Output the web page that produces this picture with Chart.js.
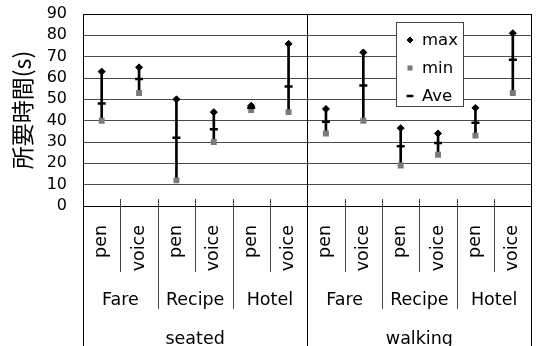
<!DOCTYPE html>
<html>
<head>
<meta charset="utf-8">
<script src="https://cdn.jsdelivr.net/npm/chart.js@4"></script>
<style>
  html, body { margin: 0; padding: 0; background: #fff; }
  #wrap { width: 538px; height: 346px; position: relative; }
</style>
</head>
<body>
<div id="wrap"><canvas id="timeChart"></canvas></div>
<script>
// --- data ---
const categories = ["pen", "voice", "pen", "voice", "pen", "voice", "pen", "voice", "pen", "voice", "pen", "voice"];
const tasks = ["Fare", "Recipe", "Hotel", "Fare", "Recipe", "Hotel"];
const postures = ["seated", "walking"];
const maxValues = [63, 65, 50, 44, 47, 76, 45.5, 72, 36.5, 34, 46, 81];
const minValues = [40, 53, 12, 30, 45, 44, 34, 40, 19, 24, 33, 53];
const aveValues = [48, 59.5, 32, 36, 46, 56, 39.5, 56.5, 28, 29.5, 39, 68.5];
const yTicks = [0, 10, 20, 30, 40, 50, 60, 70, 80, 90];

const LATIN = "'DejaVu Sans', sans-serif";

// separators + group labels + legend
const extras = {
  id: "extras",
  afterDraw(chart) {
    const ctx = chart.ctx;
    const area = chart.chartArea;
    const x = chart.scales.x;
    const H = chart.height;
    const edge = i => (x.getPixelForValue(i - 1) + x.getPixelForValue(i)) / 2;
    const step = x.getPixelForValue(1) - x.getPixelForValue(0);
    const leftX = x.getPixelForValue(0) - step / 2;
    const rightX = x.getPixelForValue(categories.length - 1) + step / 2;

    ctx.save();
    ctx.lineWidth = 1;
    // frame
    ctx.strokeStyle = "#000";
    ctx.beginPath();
    ctx.moveTo(Math.round(leftX) + 0.5, area.top);
    ctx.lineTo(Math.round(leftX) + 0.5, H);
    ctx.moveTo(Math.round(rightX) - 0.5, area.top);
    ctx.lineTo(Math.round(rightX) - 0.5, H);
    ctx.moveTo(leftX, area.top + 0.5);
    ctx.lineTo(rightX, area.top + 0.5);
    const mid = Math.round(edge(6)) + 0.5;
    ctx.moveTo(mid, area.top);
    ctx.lineTo(mid, H);
    ctx.stroke();

    // separators below the axis
    ctx.strokeStyle = "#444";
    ctx.beginPath();
    for (let i = 1; i < categories.length; i++) {
      if (i === 6) continue;
      const px = Math.round(edge(i)) + 0.5;
      const bottom = i % 2 === 1 ? 272 : 309;
      ctx.moveTo(px, area.bottom - 7);
      ctx.lineTo(px, bottom);
    }
    ctx.stroke();

    // task + posture labels
    ctx.fillStyle = "#000";
    ctx.textAlign = "center";
    ctx.textBaseline = "alphabetic";
    ctx.font = "17.5px " + LATIN;
    tasks.forEach((t, i) => {
      const cx = (x.getPixelForValue(i * 2) + x.getPixelForValue(i * 2 + 1)) / 2;
      ctx.fillText(t, cx, 305);
    });
    postures.forEach((p, i) => {
      const cx = (x.getPixelForValue(i * 6) + x.getPixelForValue(i * 6 + 5)) / 2;
      ctx.fillText(p, cx, 344);
    });

    // legend
    const bx = 396, by = 22, bw = 67, bh = 84;
    ctx.fillStyle = "#fff";
    ctx.fillRect(bx, by, bw, bh);
    ctx.strokeStyle = "#444";
    ctx.lineWidth = 1;
    ctx.strokeRect(bx + 0.5, by + 0.5, bw, bh);
    ctx.font = "16.5px " + LATIN;
    ctx.textAlign = "left";
    ctx.textBaseline = "middle";
    const items = chart.data.datasets.filter(d => d.label !== "range");
    items.forEach((d, i) => {
      const cy = by + 18 + i * 28;
      ctx.fillStyle = "#000";
      ctx.fillText(d.label, 422, cy + 1);
      ctx.fillStyle = d.backgroundColor;
      ctx.strokeStyle = d.borderColor;
      ctx.lineWidth = d.borderWidth;
      Chart.helpers.drawPoint(ctx, {
        pointStyle: d.pointStyle,
        radius: d.label === "max" ? 3 : d.pointRadius * 0.85,
        borderWidth: d.borderWidth,
        rotation: 0
      }, 410, cy);
    });
    ctx.restore();
  }
};

new Chart(document.getElementById("timeChart"), {
  data: {
    labels: categories,
    datasets: [
      {
        type: "bar",
        label: "range",
        data: minValues.map((m, i) => [m, maxValues[i]]),
        backgroundColor: "#000",
        barThickness: 2,
        order: 10
      },
      {
        type: "line",
        label: "max",
        data: maxValues,
        showLine: false,
        pointStyle: "rectRot",
        pointRadius: 3.5,
        backgroundColor: "#000",
        borderColor: "#000",
        borderWidth: 1,
        order: 2
      },
      {
        type: "line",
        label: "min",
        data: minValues,
        showLine: false,
        pointStyle: "rect",
        pointRadius: 4.2,
        backgroundColor: "#7a7a7a",
        borderColor: "#7a7a7a",
        borderWidth: 0,
        order: 3
      },
      {
        type: "line",
        label: "Ave",
        data: aveValues,
        showLine: false,
        pointStyle: "line",
        pointRadius: 4,
        backgroundColor: "#000",
        borderColor: "#000",
        borderWidth: 2.5,
        order: 1
      }
    ]
  },
  options: {
    responsive: true,
    maintainAspectRatio: false,
    animation: false,
    layout: { padding: { left: 0, top: 14, right: 3, bottom: 0 } },
    plugins: { legend: { display: false }, tooltip: { enabled: false } },
    scales: {
      x: {
        type: "category",
        afterFit: s => { s.height = 140; s.paddingLeft = 0; s.paddingRight = 0; },
        grid: { display: false },
        border: { display: true, color: "#000", width: 1 },
        ticks: {
          autoSkip: false,
          minRotation: 90,
          maxRotation: 90,
          padding: 11,
          color: "#000",
          font: { family: LATIN, size: 17.5 }
        }
      },
      y: {
        min: 0,
        max: 90,
        afterFit: s => { s.width = 83; s.paddingTop = 0; s.paddingBottom = 0; },
        afterBuildTicks: s => { s.ticks = yTicks.map(v => ({ value: v })); },
        grid: { color: "#4a4a4a", lineWidth: 1, drawTicks: false },
        border: { color: "#000", width: 1 },
        ticks: { autoSkip: false, stepSize: 10, padding: 16, color: "#000", font: { family: LATIN, size: 16 } },
        title: {
          display: true,
          text: "所要時間(s)",
          color: "#000",
          padding: { top: 8, bottom: 0 },
          font: { family: "'Noto Sans CJK JP', sans-serif", size: 23 }
        }
      }
    }
  },
  plugins: [extras]
});
</script>
</body>
</html>
